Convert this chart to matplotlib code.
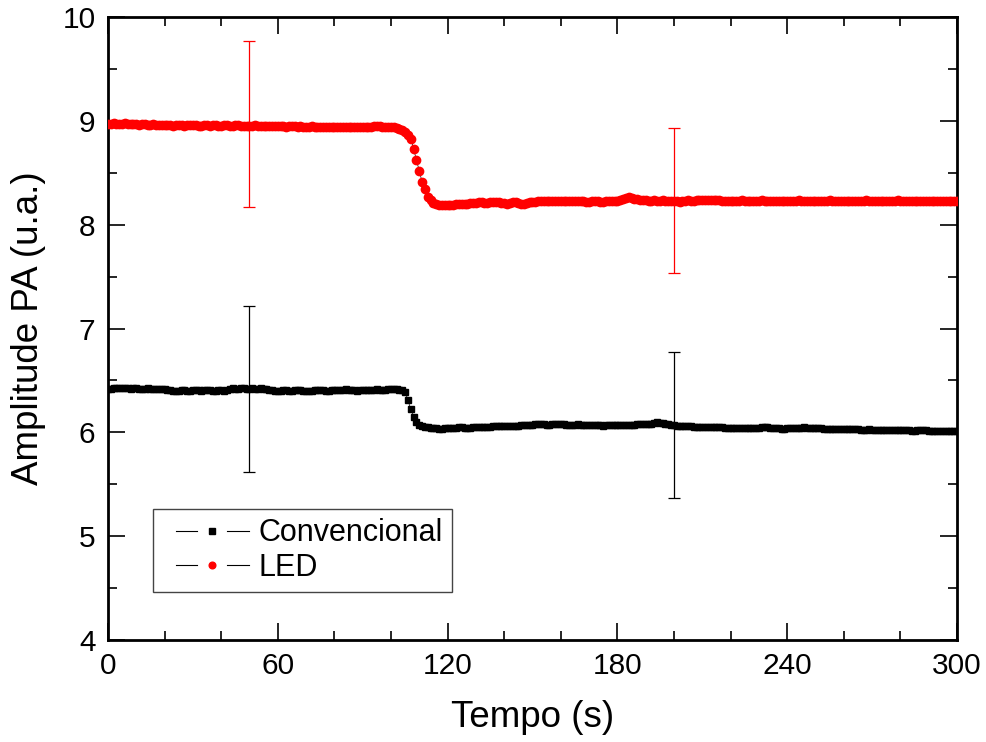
import numpy as np
import matplotlib
matplotlib.use("Agg")
import matplotlib.pyplot as plt
from matplotlib.lines import Line2D
from matplotlib.legend_handler import HandlerBase
from matplotlib.ticker import MultipleLocator

plt.rcParams['font.family'] = ['Liberation Sans', 'DejaVu Sans']

# time axis: one reading per second
tempo = np.arange(0, 301)

convencional = [
    6.42, 6.42, 6.43, 6.43, 6.43, 6.43, 6.43, 6.43, 6.42, 6.43,
    6.43, 6.42, 6.42, 6.42, 6.43, 6.42, 6.42, 6.42, 6.42, 6.42,
    6.42, 6.41, 6.41, 6.40, 6.40, 6.40, 6.41, 6.41, 6.40, 6.40,
    6.41, 6.41, 6.41, 6.40, 6.41, 6.41, 6.41, 6.40, 6.40, 6.41,
    6.41, 6.40, 6.41, 6.42, 6.43, 6.42, 6.42, 6.43, 6.43, 6.42,
    6.42, 6.43, 6.42, 6.42, 6.43, 6.42, 6.42, 6.41, 6.41, 6.40,
    6.40, 6.40, 6.41, 6.41, 6.40, 6.40, 6.41, 6.41, 6.41, 6.40,
    6.40, 6.40, 6.40, 6.41, 6.41, 6.41, 6.41, 6.40, 6.40, 6.41,
    6.41, 6.41, 6.41, 6.41, 6.42, 6.41, 6.41, 6.41, 6.40, 6.41,
    6.41, 6.41, 6.41, 6.41, 6.41, 6.42, 6.41, 6.41, 6.41, 6.42,
    6.42, 6.42, 6.42, 6.41, 6.41, 6.39, 6.31, 6.22, 6.15, 6.10,
    6.07, 6.06, 6.05, 6.05, 6.04, 6.04, 6.04, 6.03, 6.03, 6.04,
    6.04, 6.04, 6.04, 6.04, 6.05, 6.05, 6.04, 6.04, 6.04, 6.05,
    6.05, 6.05, 6.05, 6.05, 6.05, 6.05, 6.06, 6.06, 6.06, 6.06,
    6.06, 6.06, 6.06, 6.06, 6.06, 6.06, 6.07, 6.07, 6.07, 6.07,
    6.07, 6.08, 6.08, 6.08, 6.08, 6.07, 6.07, 6.08, 6.08, 6.08,
    6.08, 6.08, 6.07, 6.07, 6.07, 6.07, 6.08, 6.07, 6.07, 6.07,
    6.07, 6.07, 6.07, 6.07, 6.07, 6.06, 6.07, 6.07, 6.07, 6.07,
    6.07, 6.07, 6.07, 6.07, 6.07, 6.07, 6.07, 6.08, 6.08, 6.08,
    6.08, 6.08, 6.08, 6.09, 6.10, 6.09, 6.09, 6.08, 6.08, 6.07,
    6.07, 6.06, 6.06, 6.06, 6.06, 6.06, 6.06, 6.05, 6.05, 6.05,
    6.05, 6.05, 6.05, 6.05, 6.05, 6.05, 6.05, 6.05, 6.04, 6.04,
    6.04, 6.04, 6.04, 6.04, 6.04, 6.04, 6.04, 6.04, 6.04, 6.04,
    6.04, 6.05, 6.05, 6.05, 6.04, 6.04, 6.04, 6.04, 6.03, 6.03,
    6.04, 6.04, 6.04, 6.04, 6.04, 6.04, 6.05, 6.04, 6.04, 6.04,
    6.04, 6.04, 6.04, 6.03, 6.03, 6.03, 6.03, 6.03, 6.03, 6.03,
    6.03, 6.03, 6.03, 6.03, 6.03, 6.03, 6.02, 6.02, 6.02, 6.03,
    6.02, 6.02, 6.02, 6.02, 6.02, 6.02, 6.02, 6.02, 6.02, 6.02,
    6.02, 6.02, 6.02, 6.02, 6.01, 6.01, 6.02, 6.02, 6.02, 6.02,
    6.01, 6.01, 6.01, 6.01, 6.01, 6.01, 6.01, 6.01, 6.01, 6.01,
    6.01,
]

led = [
    8.97, 8.97, 8.98, 8.97, 8.97, 8.97, 8.98, 8.97, 8.97, 8.97,
    8.97, 8.96, 8.97, 8.97, 8.96, 8.96, 8.97, 8.96, 8.96, 8.96,
    8.96, 8.96, 8.96, 8.95, 8.96, 8.96, 8.96, 8.95, 8.96, 8.96,
    8.96, 8.96, 8.95, 8.95, 8.96, 8.96, 8.95, 8.96, 8.96, 8.95,
    8.95, 8.96, 8.96, 8.95, 8.95, 8.96, 8.96, 8.95, 8.95, 8.95,
    8.95, 8.95, 8.96, 8.95, 8.95, 8.95, 8.95, 8.95, 8.95, 8.95,
    8.95, 8.95, 8.95, 8.94, 8.95, 8.95, 8.95, 8.94, 8.95, 8.94,
    8.94, 8.94, 8.95, 8.94, 8.94, 8.94, 8.94, 8.94, 8.94, 8.94,
    8.94, 8.94, 8.94, 8.94, 8.94, 8.94, 8.94, 8.94, 8.94, 8.94,
    8.94, 8.94, 8.94, 8.94, 8.95, 8.95, 8.95, 8.94, 8.94, 8.94,
    8.94, 8.94, 8.93, 8.92, 8.91, 8.89, 8.86, 8.83, 8.73, 8.62,
    8.52, 8.41, 8.34, 8.27, 8.24, 8.21, 8.20, 8.19, 8.19, 8.19,
    8.19, 8.19, 8.19, 8.20, 8.20, 8.20, 8.20, 8.20, 8.21, 8.21,
    8.21, 8.22, 8.22, 8.21, 8.21, 8.22, 8.22, 8.22, 8.22, 8.21,
    8.21, 8.20, 8.21, 8.22, 8.22, 8.21, 8.20, 8.20, 8.21, 8.22,
    8.22, 8.22, 8.23, 8.23, 8.23, 8.23, 8.23, 8.23, 8.23, 8.23,
    8.23, 8.23, 8.23, 8.23, 8.23, 8.23, 8.23, 8.23, 8.23, 8.22,
    8.22, 8.23, 8.23, 8.23, 8.22, 8.22, 8.23, 8.23, 8.23, 8.23,
    8.23, 8.24, 8.25, 8.26, 8.27, 8.26, 8.25, 8.25, 8.24, 8.24,
    8.24, 8.23, 8.23, 8.24, 8.23, 8.23, 8.24, 8.23, 8.23, 8.23,
    8.23, 8.23, 8.22, 8.23, 8.23, 8.24, 8.23, 8.23, 8.24, 8.24,
    8.24, 8.24, 8.24, 8.24, 8.24, 8.24, 8.24, 8.23, 8.23, 8.23,
    8.23, 8.23, 8.23, 8.23, 8.24, 8.23, 8.23, 8.23, 8.23, 8.23,
    8.23, 8.24, 8.23, 8.23, 8.23, 8.23, 8.23, 8.23, 8.23, 8.23,
    8.23, 8.23, 8.23, 8.23, 8.24, 8.23, 8.23, 8.23, 8.23, 8.23,
    8.23, 8.23, 8.23, 8.23, 8.23, 8.24, 8.23, 8.23, 8.23, 8.23,
    8.23, 8.23, 8.23, 8.23, 8.23, 8.23, 8.23, 8.23, 8.24, 8.23,
    8.23, 8.23, 8.23, 8.23, 8.23, 8.23, 8.23, 8.23, 8.23, 8.24,
    8.23, 8.23, 8.23, 8.23, 8.23, 8.23, 8.23, 8.23, 8.23, 8.23,
    8.23, 8.23, 8.23, 8.23, 8.23, 8.23, 8.23, 8.23, 8.23, 8.23,
    8.23,
]

# error bars drawn at two instants only
err_tempo = [50, 200]
conv_err_y = [6.42, 6.07]
conv_err = [0.80, 0.70]
led_err_y = [8.97, 8.23]
led_err = [0.80, 0.70]

x_ticks = [0, 60, 120, 180, 240, 300]
y_ticks = [4, 5, 6, 7, 8, 9, 10]


class SplitHandler(HandlerBase):
    # Origin-style legend entry: line, gap, marker, gap, line
    def create_artists(self, legend, orig_handle, xdescent, ydescent,
                       width, height, fontsize, trans):
        y = height / 2 - ydescent
        x0 = -xdescent
        l1 = Line2D([x0 + 0.16 * width, x0 + 0.40 * width], [y, y],
                    color='black', lw=0.8)
        l2 = Line2D([x0 + 0.74 * width, x0 + 1.0 * width], [y, y],
                    color='black', lw=0.8)
        m = Line2D([x0 + 0.57 * width], [y], ls='none',
                   marker=orig_handle.get_marker(),
                   color=orig_handle.get_markerfacecolor(),
                   markersize=orig_handle.get_markersize() * 0.8)
        for a in (l1, l2, m):
            a.set_transform(trans)
        return [l1, m, l2]


fig = plt.figure(figsize=(9.87, 7.42), dpi=100)
ax = fig.add_axes([0.1094, 0.1375, 0.8602, 0.8395])

ax.plot(tempo, convencional, color='black', lw=0.5, marker='s',
        markersize=5.0, markerfacecolor='black', markeredgecolor='black',
        label='Convencional', zorder=3)
ax.plot(tempo, led, color='black', lw=0.5, marker='o',
        markersize=6.0, markerfacecolor='red', markeredgecolor='red',
        label='LED', zorder=3)

ax.errorbar(err_tempo, conv_err_y, yerr=conv_err, fmt='none',
            ecolor='black', elinewidth=0.9, capsize=4.5, capthick=0.9, zorder=2)
ax.errorbar(err_tempo, led_err_y, yerr=led_err, fmt='none',
            ecolor='red', elinewidth=0.9, capsize=4.5, capthick=0.9, zorder=2)

ax.set_xlim(0, 300)
ax.set_ylim(4, 10)
ax.set_xticks(x_ticks)
ax.set_yticks(y_ticks)
ax.xaxis.set_minor_locator(MultipleLocator(20))
ax.yaxis.set_minor_locator(MultipleLocator(0.5))

ax.tick_params(which='both', direction='in', top=True, right=True,
               labelsize=21.5, width=1.2)
ax.tick_params(which='major', length=12, pad=9)
ax.tick_params(which='minor', length=6.5)
for sp in ax.spines.values():
    sp.set_linewidth(2)

ax.set_xlabel('Tempo (s)', fontsize=26.5, labelpad=14)
ax.set_ylabel('Amplitude PA (u.a.)', fontsize=26.5, labelpad=12)

handles, labels = ax.get_legend_handles_labels()
leg = ax.legend(handles, labels, loc='lower left',
                bbox_to_anchor=(0.053, 0.077), borderaxespad=0,
                fontsize=22, handlelength=2.85, handletextpad=0.3,
                borderpad=0.3, labelspacing=0.15, fancybox=False,
                edgecolor='#444444', framealpha=1,
                handler_map={Line2D: SplitHandler()})
leg.get_frame().set_linewidth(1.0)

fig.savefig('out.png', dpi=100)
